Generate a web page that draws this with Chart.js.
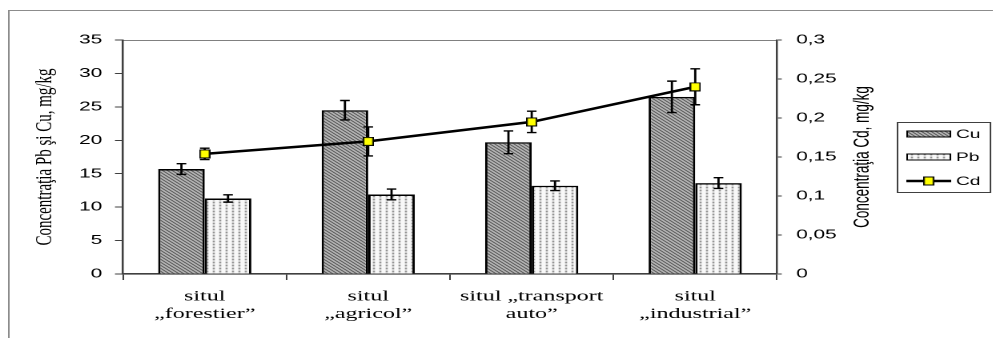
<!DOCTYPE html>
<html>
<head>
<meta charset="utf-8">
<script src="https://cdn.jsdelivr.net/npm/chart.js@4.4.0/dist/chart.umd.min.js"></script>
<style>
  html, body { margin: 0; padding: 0; background: #fff; overflow: hidden; }
  /* the original picture has wide, stretched lettering: draw narrow, then stretch */
  #wrap { position: absolute; left: 0; top: 0; width: 622px; height: 338px; transform: scaleX(1.6013); transform-origin: 0 0; }
</style>
</head>
<body>
<div id="wrap"><canvas id="chart"></canvas></div>
<script>
// data
const sites = [["situl", "„forestier”"], ["situl", "„agricol”"], ["situl „transport", "auto”"], ["situl", "„industrial”"]]
const cuValues = [15.7, 24.5, 19.7, 26.5]
const cuErrors = [0.8, 1.45, 1.7, 2.35]
const pbValues = [11.3, 11.9, 13.2, 13.6]
const pbErrors = [0.55, 0.8, 0.72, 0.8]
const cdValues = [0.154, 0.170, 0.195, 0.240]
const cdErrors = [0.0073, 0.0186, 0.0137, 0.023]
const cdTickLabels = ["0", "0,05", "0,1", "0,15", "0,2", "0,25", "0,3"]
const cdAxisTitle = "Concentraţia Cd, mg/kg"

// fill patterns for the bars
function hatchPattern() {
    const c = document.createElement("canvas")
    c.width = 3; c.height = 3
    const g = c.getContext("2d")
    g.fillStyle = "#c8c8c8"; g.fillRect(0, 0, 3, 3)
    g.fillStyle = "#262626"
    for (let i = 0; i < 3; i++) g.fillRect(i, i, 1, 1)
    return g.createPattern(c, "repeat")
}
function dotPattern() {
    const c = document.createElement("canvas")
    c.width = 4; c.height = 3
    const g = c.getContext("2d")
    g.fillStyle = "#f8f8f8"; g.fillRect(0, 0, 4, 3)
    g.fillStyle = "#d0d0d0"; g.fillRect(1, 0, 1, 3)
    g.fillStyle = "#555"; g.fillRect(1, 1, 1, 1)
    return g.createPattern(c, "repeat")
}
function markerImage() {
    const c = document.createElement("canvas")
    c.width = 7; c.height = 9
    const g = c.getContext("2d")
    g.fillStyle = "#000"; g.fillRect(0, 0, 7, 9)
    g.fillStyle = "#ffff00"; g.fillRect(1, 1, 5, 7)
    return c
}
const cuFill = hatchPattern()
const pbFill = dotPattern()
const cdMarker = markerImage()

// outer frame, top edge of the plot area, and the right axis title (reads bottom to top)
const framePlugin = {
    id: "frame",
    beforeDraw(chart) {
        const ctx = chart.ctx, a = chart.chartArea
        ctx.save()
        ctx.fillStyle = "#fff"
        ctx.fillRect(0, 0, chart.width, chart.height)
        ctx.strokeStyle = "#8c8c8c"
        ctx.lineWidth = 1
        ctx.beginPath()
        ctx.moveTo(5.5, chart.height); ctx.lineTo(5.5, 10.5); ctx.lineTo(620, 10.5)
        ctx.stroke()
        ctx.strokeStyle = "#808080"
        ctx.beginPath()
        ctx.moveTo(a.left, a.top + 0.5); ctx.lineTo(a.right, a.top + 0.5)
        ctx.stroke()
        const s = chart.scales.y1
        ctx.translate(s.right - 13, (a.top + a.bottom) / 2)
        ctx.rotate(-Math.PI / 2)
        ctx.font = "13.5px 'Liberation Sans', Arial, sans-serif"
        ctx.textAlign = "center"
        ctx.textBaseline = "middle"
        ctx.fillStyle = "#000"
        ctx.fillText(cdAxisTitle, 0, 0)
        ctx.restore()
    }
}

// error bars, under the Cd markers but over the bars
function drawErrors(chart, index) {
    const ds = chart.data.datasets[index]
    const meta = chart.getDatasetMeta(index)
    const scale = chart.scales[meta.yAxisID]
    const ctx = chart.ctx
    ctx.save()
    ctx.strokeStyle = "#000"
    ctx.lineWidth = 1.4
    meta.data.forEach((el, j) => {
        const hi = scale.getPixelForValue(ds.data[j] + ds.errors[j])
        const lo = scale.getPixelForValue(ds.data[j] - ds.errors[j])
        ctx.beginPath()
        ctx.moveTo(el.x, hi); ctx.lineTo(el.x, lo)
        ctx.moveTo(el.x - 3, hi); ctx.lineTo(el.x + 3, hi)
        ctx.moveTo(el.x - 3, lo); ctx.lineTo(el.x + 3, lo)
        ctx.stroke()
    })
    ctx.restore()
}
const errorPlugin = {
    id: "errorBars",
    afterDatasetDraw(chart, args) {
        if (chart.data.datasets[args.index].type !== "line") drawErrors(chart, args.index)
    },
    afterDatasetsDraw(chart) {
        chart.data.datasets.forEach((ds, i) => {
            if (ds.type !== "line") return
            drawErrors(chart, i)
            // put the markers back on top of the error lines
            chart.getDatasetMeta(i).data.forEach(p => chart.ctx.drawImage(cdMarker, p.x - 3.5, p.y - 4.5))
        })
    }
}

// boxed legend on the right
const legendPlugin = {
    id: "boxLegend",
    afterDraw(chart) {
        const ctx = chart.ctx
        const left = 560.5, top = 122.5, right = 618.5, bottom = 192.5
        const rows = [134, 157, 181]
        ctx.save()
        ctx.strokeStyle = "#404040"
        ctx.lineWidth = 1
        ctx.strokeRect(left, top, right - left, bottom - top)
        ctx.font = "12px 'Liberation Sans', Arial, sans-serif"
        ctx.textBaseline = "middle"
        ctx.fillStyle = "#000"
        chart.data.datasets.forEach((ds, i) => {
            const y = rows[i]
            if (ds.type === "line") {
                ctx.strokeStyle = "#000"
                ctx.lineWidth = 2.4
                ctx.beginPath(); ctx.moveTo(566, y); ctx.lineTo(594, y); ctx.stroke()
                ctx.drawImage(cdMarker, 580 - 3.5, y - 4.5)
            } else {
                ctx.fillStyle = ds.backgroundColor
                ctx.fillRect(566.5, y - 3, 27, 6)
                ctx.strokeStyle = "#000"
                ctx.lineWidth = 1
                ctx.strokeRect(566.5, y - 3, 27, 6)
            }
            ctx.fillStyle = "#000"
            ctx.fillText(ds.label, 597, y + 0.5)
        })
        ctx.restore()
    }
}

new Chart(document.getElementById("chart"), {
    type: "bar",
    data: {
        labels: sites,
        datasets: [
            {
                label: "Cu", data: cuValues, errors: cuErrors, yAxisID: "y",
                backgroundColor: cuFill, borderColor: "#000", borderWidth: 1.5,
                categoryPercentage: 0.57, barPercentage: 1.0, order: 2,
            },
            {
                label: "Pb", data: pbValues, errors: pbErrors, yAxisID: "y",
                backgroundColor: pbFill, borderColor: "#000", borderWidth: 1.5,
                categoryPercentage: 0.57, barPercentage: 1.0, order: 2,
            },
            {
                type: "line", label: "Cd", data: cdValues, errors: cdErrors, yAxisID: "y1",
                borderColor: "#000", borderWidth: 2.5, backgroundColor: "#ffff00",
                pointStyle: cdMarker, tension: 0, fill: false, order: 1,
            },
        ],
    },
    options: {
        responsive: true,
        maintainAspectRatio: false,
        animation: false,
        devicePixelRatio: 2,
        layout: { padding: { left: 0, right: 70, top: 40, bottom: 0 } },
        plugins: { legend: { display: false }, tooltip: { enabled: false } },
        scales: {
            x: {
                grid: { offset: true, drawOnChartArea: false, tickLength: 6, color: "#404040", lineWidth: 1 },
                border: { color: "#404040", width: 1.6 },
                ticks: {
                    color: "#000", padding: 8, maxRotation: 0, autoSkip: false,
                    font: { family: "'Liberation Serif', 'Times New Roman', serif", size: 15, lineHeight: 1.15 },
                },
                afterFit(s) { s.height = 64 },
            },
            y: {
                position: "left", min: 0, max: 35,
                grid: { drawOnChartArea: false, tickLength: 5, color: "#404040" },
                border: { color: "#404040", width: 1.25 },
                ticks: { stepSize: 5, color: "#000", padding: 8, font: { family: "'Liberation Sans', Arial, sans-serif", size: 13 } },
                title: {
                    display: true, text: "Concentraţia Pb şi Cu, mg/kg", color: "#000",
                    font: { family: "'Liberation Serif', 'Times New Roman', serif", size: 15 },
                    padding: { top: 19, bottom: 0 },
                },
                afterFit(s) { s.width = 76.8 },
            },
            y1: {
                position: "right", min: 0, max: 0.3,
                grid: { drawOnChartArea: false, tickLength: 3, color: "#404040" },
                border: { color: "#404040", width: 1.25 },
                ticks: {
                    stepSize: 0.05, color: "#000", padding: 9,
                    font: { family: "'Liberation Sans', Arial, sans-serif", size: 13 },
                    callback: (v, i) => cdTickLabels[i],
                },
                afterFit(s) { s.width = 66.8 },
            },
        },
    },
    plugins: [framePlugin, errorPlugin, legendPlugin],
})
</script>
</body>
</html>
